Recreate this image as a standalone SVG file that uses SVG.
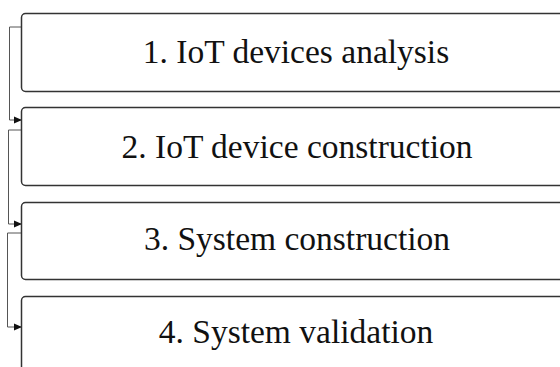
<svg xmlns="http://www.w3.org/2000/svg" width="560" height="367" viewBox="0 0 560 367">
<style>
.box{fill:#fff;stroke:#333;stroke-width:1.5}
.lbl{font-family:"Liberation Serif","Times New Roman",serif;font-size:33.5px;fill:#111;text-anchor:middle}
.con{fill:none;stroke:#555;stroke-width:1}
</style>
<defs>
<marker id="arr" markerWidth="8" markerHeight="8" refX="7" refY="4" orient="auto" markerUnits="userSpaceOnUse">
<path d="M0,0.5 L8,4 L0,7.5 Z" fill="#111"/>
</marker>
</defs>
<rect width="560" height="367" fill="#fff"/>
<g id="connectors">
<path class="con" d="M21,27 H9.5 V120 H21" marker-end="url(#arr)"/>
<path class="con" d="M21,130 H8.5 V224 H21" marker-end="url(#arr)"/>
<path class="con" d="M21,233 H7.5 V327 H21" marker-end="url(#arr)"/>
</g>
<g id="n1"><rect class="box" x="21.5" y="13.5" width="560" height="78" rx="4"/><text class="lbl" x="296" y="63">1. IoT devices analysis</text></g>
<g id="n2"><rect class="box" x="21.5" y="107.5" width="560" height="78" rx="4"/><text class="lbl" x="297" y="158">2. IoT device construction</text></g>
<g id="n3"><rect class="box" x="21.5" y="202.5" width="560" height="77" rx="4"/><text class="lbl" x="297" y="250">3. System construction</text></g>
<g id="n4"><rect class="box" x="21.5" y="296.5" width="560" height="90" rx="4"/><text class="lbl" x="296" y="343">4. System validation</text></g>
</svg>
